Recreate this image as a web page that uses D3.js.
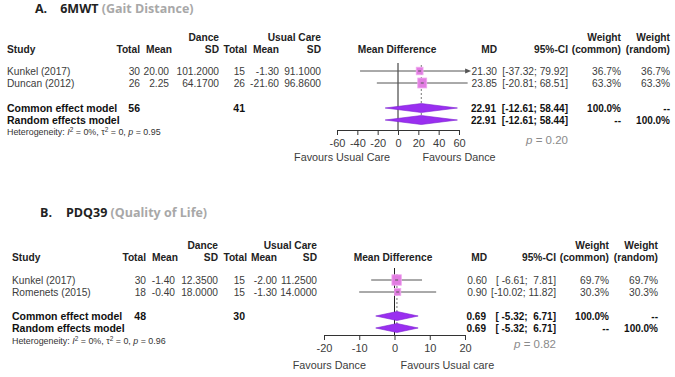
<!DOCTYPE html>
<html>
<head>
<meta charset="utf-8">
<script src="https://cdnjs.cloudflare.com/ajax/libs/d3/7.8.5/d3.min.js"></script>
<style>
  body { margin: 0; background: #fff; }
  text { font-family: "Liberation Sans", Arial, sans-serif; }
</style>
</head>
<body>
<div id="chart"></div>
<script>
const width = 675, height = 377;

// ---- Panel A: 6MWT (Gait Distance) ----
const studiesA = ["Kunkel (2017)", "Duncan (2012)"];
const danceTotalA = [30, 26];
const danceMeanA = [20.00, 2.25];
const danceSdA = [101.2, 64.17];
const ucTotalA = [15, 26];
const ucMeanA = [-1.30, -21.60];
const ucSdA = [91.1, 96.86];
const mdA = [21.30, 23.85];
const lowerA = [-37.32, -20.81];
const upperA = [79.92, 68.51];
const wCommonA = [36.7, 63.3];
const wRandomA = [36.7, 63.3];
const pooledA = [22.91, -12.61, 58.44];   // MD, lower, upper
const totalsA = [56, 41];                  // dance, usual care
const hetA = ["0%", "0", "0.95"];          // I2, tau2, p
const pTestA = "0.20";
const ticksA = [-60, -40, -20, 0, 20, 40, 60];

// ---- Panel B: PDQ39 (Quality of Life) ----
const studiesB = ["Kunkel (2017)", "Romenets (2015)"];
const danceTotalB = [30, 18];
const danceMeanB = [-1.40, -0.40];
const danceSdB = [12.35, 18.0];
const ucTotalB = [15, 15];
const ucMeanB = [-2.00, -1.30];
const ucSdB = [11.25, 14.0];
const mdB = [0.60, 0.90];
const lowerB = [-6.61, -10.02];
const upperB = [7.81, 11.82];
const wCommonB = [69.7, 30.3];
const wRandomB = [69.7, 30.3];
const pooledB = [0.69, -5.32, 6.71];
const totalsB = [48, 30];
const hetB = ["0%", "0", "0.96"];
const pTestB = "0.82";
const ticksB = [-20, -10, 0, 10, 20];

const svg = d3.select('#chart')
  .append('svg')
  .attr('width', width)
  .attr('height', height);

// plain hyphen minus like the original
const f2 = v => v.toFixed(2), f4 = v => v.toFixed(4), f1 = v => v.toFixed(1);

// small helper for a text item, y is the vertical centre
function txt(g, x, y, s, o = {}) {
  return g.append('text')
    .attr('x', x)
    .attr('y', y)
    .attr('dy', '0.35em')
    .attr('text-anchor', o.anchor || 'start')
    .attr('font-size', o.size || 10.2)
    .attr('font-weight', o.bold ? 'bold' : 'normal')
    .attr('fill', o.color || '#3c3c3c')
    .style('white-space', 'pre')
    .text(s);
}

function ci(lo, hi) {
  return `[${f2(lo).padStart(6, ' ')}; ${f2(hi).padStart(5, ' ')}]`;
}

function drawPanel(p) {
  const g = svg.append('g');
  const x = d3.scaleLinear().domain([p.ticks[0], p.ticks[p.ticks.length - 1]]).range(p.range);
  const c = p.cols;

  // title
  const tt = txt(g, p.titleX, p.y.title, '', { bold: true, size: 12.5, color: '#222' })
    .style('font-family', '"Open Sans", "Lato", sans-serif');
  tt.append('tspan').text(p.letter);
  tt.append('tspan').attr('dx', p.titleGap).text(p.name + ' ');
  tt.append('tspan').attr('fill', '#a8a8a8').text(p.sub);

  // headers
  const hb = { bold: true, size: 10.2, color: '#222' };
  txt(g, c.dSd, p.y.h1, 'Dance', { ...hb, anchor: 'end' });
  txt(g, c.uSd, p.y.h1, 'Usual Care', { ...hb, anchor: 'end' });
  txt(g, c.wc, p.y.h1, 'Weight', { ...hb, anchor: 'end' });
  txt(g, c.wr, p.y.h1, 'Weight', { ...hb, anchor: 'end' });
  txt(g, c.study, p.y.h2, 'Study', hb);
  [['Total', c.dTot], ['Mean', c.dMean + 3], ['SD', c.dSd], ['Total', c.uTot], ['Mean', c.uMean], ['SD', c.uSd],
   ['MD', c.md], ['95%-CI', c.ci], ['(common)', c.wc], ['(random)', c.wr]]
    .forEach(([s, xx]) => txt(g, xx, p.y.h2, s, { ...hb, anchor: 'end' }));
  txt(g, p.mdHeadX, p.y.h2, 'Mean Difference', { ...hb, anchor: 'middle' });

  // study rows
  p.studies.forEach((s, i) => {
    const yy = p.y.rows[i];
    txt(g, c.study, yy, s);
    txt(g, c.dTot, yy, p.dTot[i], { anchor: 'end' });
    txt(g, c.dMean, yy, f2(p.dMean[i]), { anchor: 'end' });
    txt(g, c.dSd, yy, f4(p.dSd[i]), { anchor: 'end' });
    txt(g, c.uTot - 2, yy, p.uTot[i], { anchor: 'end' });
    txt(g, c.uMean, yy, f2(p.uMean[i]), { anchor: 'end' });
    txt(g, c.uSd, yy, f4(p.uSd[i]), { anchor: 'end' });
    txt(g, c.md, yy, f2(p.md[i]), { anchor: 'end' });
    txt(g, c.ci, yy, ci(p.lo[i], p.hi[i]), { anchor: 'end' });
    txt(g, c.wc, yy, f1(p.wc[i]) + '%', { anchor: 'end' });
    txt(g, c.wr, yy, f1(p.wr[i]) + '%', { anchor: 'end' });
  });

  // pooled rows
  const bb = { bold: true, size: 10.5, color: '#111' };
  const bv = { bold: true, size: 10, color: '#111' };
  txt(g, c.study, p.y.common, 'Common effect model', bb);
  txt(g, c.study, p.y.random, 'Random effects model', bb);
  txt(g, c.dTot, p.y.common, p.totals[0], { ...bb, anchor: 'end' });
  txt(g, c.uTot - 2, p.y.common, p.totals[1], { ...bb, anchor: 'end' });
  [p.y.common, p.y.random].forEach((yy, k) => {
    txt(g, c.md - 1, yy, f2(p.pooled[0]), { ...bv, anchor: 'end' });
    txt(g, c.ci, yy, ci(p.pooled[1], p.pooled[2]), { ...bv, anchor: 'end' });
    txt(g, c.wc, yy, k === 0 ? '100.0%' : '--', { ...bv, anchor: 'end' });
    txt(g, c.wr, yy, k === 0 ? '--' : '100.0%', { ...bv, anchor: 'end' });
  });

  // heterogeneity line
  const ht = txt(g, c.study, p.y.het, '', { size: 8.9, color: '#333' });
  ht.append('tspan').text('Heterogeneity: ');
  ht.append('tspan').attr('font-style', 'italic').text('I');
  ht.append('tspan').attr('dy', -3.5).attr('font-size', 6.5).text('2');
  ht.append('tspan').attr('dy', 3.5).text(` = ${p.het[0]}, τ`);
  ht.append('tspan').attr('dy', -3.5).attr('font-size', 6.5).text('2');
  ht.append('tspan').attr('dy', 3.5).text(` = ${p.het[1]}, `);
  ht.append('tspan').attr('font-style', 'italic').text('p');
  ht.append('tspan').text(` = ${p.het[2]}`);

  // test for overall effect
  const pt = txt(g, c.ci, p.y.p, '', { anchor: 'end', size: 11.5, color: '#8a8a8a' });
  pt.append('tspan').attr('font-style', 'italic').text('p');
  pt.append('tspan').text(` = ${p.pTest}`);

  // zero line
  g.append('line')
    .attr('x1', x(0)).attr('x2', x(0))
    .attr('y1', p.y.zeroTop).attr('y2', p.y.axis)
    .attr('stroke', '#222').attr('stroke-width', 1);

  // dashed pooled estimate line
  g.append('line')
    .attr('x1', x(p.pooled[0])).attr('x2', x(p.pooled[0]))
    .attr('y1', p.y.rows[0] - 6).attr('y2', p.y.random + 5)
    .attr('stroke', '#777').attr('stroke-width', 1)
    .attr('stroke-dasharray', '2,2');

  // study CIs and squares
  p.studies.forEach((s, i) => {
    const yy = p.y.rows[i];
    const hiC = Math.min(p.hi[i], p.xlim[1]);
    const loC = Math.max(p.lo[i], p.xlim[0]);
    g.append('line')
      .attr('x1', x(loC)).attr('x2', x(hiC))
      .attr('y1', yy).attr('y2', yy)
      .attr('stroke', '#555').attr('stroke-width', 1);
    if (p.hi[i] > p.xlim[1]) {
      const ax = x(p.xlim[1]);
      g.append('path')
        .attr('d', `M${ax + 3},${yy} L${ax - 3},${yy - 2.5} L${ax - 3},${yy + 2.5} Z`)
        .attr('fill', '#555');
    }
    const h = 12.5 * Math.sqrt(p.wc[i] / 100), w = h * 0.9;
    g.append('rect')
      .attr('x', x(p.md[i]) - w / 2).attr('y', yy - h / 2)
      .attr('width', w).attr('height', h)
      .attr('fill', '#e27de2').attr('stroke', '#f0a8f0').attr('stroke-width', 0.8);
    g.append('line')
      .attr('x1', x(p.md[i]) - 1.5).attr('x2', x(p.md[i]) + 1.5)
      .attr('y1', yy).attr('y2', yy)
      .attr('stroke', '#555');
  });

  // pooled diamonds
  [p.y.common, p.y.random].forEach(yy => {
    const [m, lo, hi] = p.pooled;
    g.append('path')
      .attr('d', `M${x(lo)},${yy} L${x(m)},${yy - 4.5} L${x(hi)},${yy} L${x(m)},${yy + 4.5} Z`)
      .attr('fill', '#9a2ff0').attr('stroke', '#7a1fd0').attr('stroke-width', 0.6);
  });

  // axis
  const ax = g.append('g')
    .attr('transform', `translate(0,${p.y.axis})`)
    .call(d3.axisBottom(x).tickValues(p.ticks).tickSize(5).tickSizeOuter(0).tickFormat(d => String(d)));
  ax.select('.domain').attr('stroke', '#333');
  ax.selectAll('.tick line').attr('stroke', '#333');
  ax.selectAll('.tick text')
    .attr('font-size', 11)
    .attr('fill', '#3c3c3c')
    .attr('font-family', '"Liberation Sans", Arial, sans-serif')
    .attr('y', 9);

  txt(g, x(p.favX[0]), p.y.fav, p.favours[0], { anchor: 'middle', size: 10.8 });
  txt(g, x(p.favX[1]), p.y.fav, p.favours[1], { anchor: 'middle', size: 10.8 });
}

drawPanel({
  letter: 'A.', name: '6MWT', sub: '(Gait Distance)', titleX: 35, titleGap: 13,
  studies: studiesA, dTot: danceTotalA, dMean: danceMeanA, dSd: danceSdA,
  uTot: ucTotalA, uMean: ucMeanA, uSd: ucSdA,
  md: mdA, lo: lowerA, hi: upperA, wc: wCommonA, wr: wRandomA,
  pooled: pooledA, totals: totalsA, het: hetA, pTest: pTestA,
  ticks: ticksA, range: [337, 459], xlim: [-70, 69],
  favours: ['Favours Usual Care', 'Favours Dance'], favX: [-55, 60],
  mdHeadX: 397,
  cols: { study: 7, dTot: 140, dMean: 169, dSd: 219, uTot: 247, uMean: 279, uSd: 321,
          md: 497, ci: 568, wc: 621, wr: 670 },
  y: { title: 9, h1: 37, h2: 49, rows: [71, 83], common: 108, random: 120, het: 132,
       zeroTop: 63, axis: 130, fav: 157, p: 140 }
});

drawPanel({
  letter: 'B.', name: 'PDQ39', sub: '(Quality of Life)', titleX: 40, titleGap: 14,
  studies: studiesB, dTot: danceTotalB, dMean: danceMeanB, dSd: danceSdB,
  uTot: ucTotalB, uMean: ucMeanB, uSd: ucSdB,
  md: mdB, lo: lowerB, hi: upperB, wc: wCommonB, wr: wRandomB,
  pooled: pooledB, totals: totalsB, het: hetB, pTest: pTestB,
  ticks: ticksB, range: [324, 465], xlim: [-20, 20],
  favours: ['Favours Dance', 'Favours Usual care'], favX: [-18.5, 15],
  mdHeadX: 393,
  cols: { study: 12, dTot: 146, dMean: 175, dSd: 218, uTot: 247, uMean: 277, uSd: 317,
          md: 487, ci: 556, wc: 609, wr: 658 },
  y: { title: 213, h1: 245, h2: 257, rows: [280, 292], common: 316, random: 328, het: 341,
       zeroTop: 268, axis: 335, fav: 365, p: 344 }
});
</script>
</body>
</html>
